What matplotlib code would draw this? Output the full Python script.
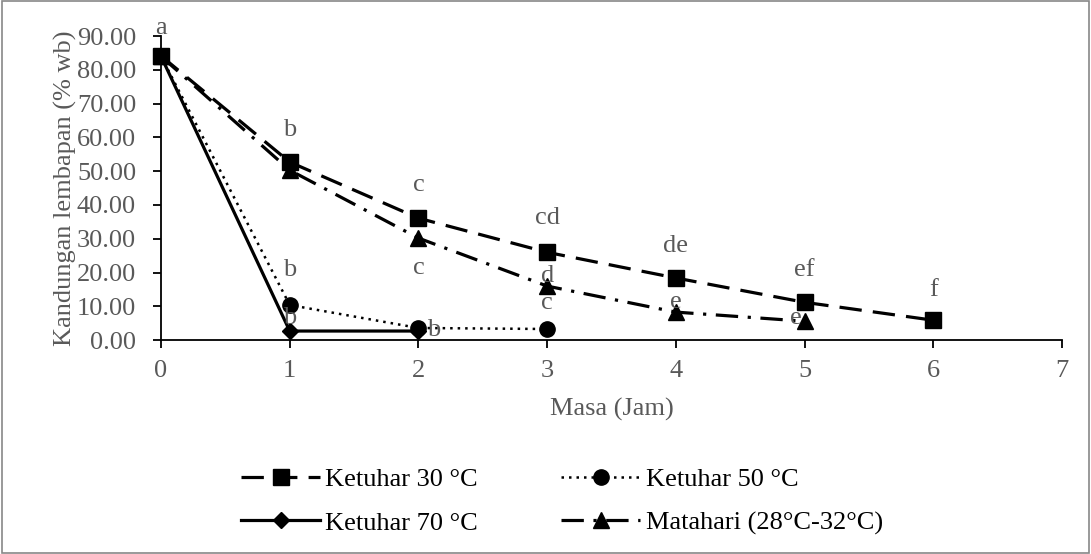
import numpy as np
import matplotlib.pyplot as plt
from matplotlib.patches import Rectangle

plt.rcParams['font.family'] = ['Liberation Serif', 'DejaVu Serif']

GRAY = '#595959'

# data
x_30 = [0, 1, 2, 3, 4, 5, 6]
y_30 = [84.1, 52.7, 36.1, 26.0, 18.4, 11.2, 5.9]
lab_30 = ['a', 'b', 'c', 'cd', 'de', 'ef', 'f']
laby_30 = [92.3, 62.2, 45.9, 36.1, 27.8, 20.7, 14.8]

x_50 = [0, 1, 2, 3]
y_50 = [84.0, 10.4, 3.6, 3.3]
lab_50 = ['b', 'c', 'c']
labx_50 = [1, 2, 3]
laby_50 = [20.7, 21.3, 11.0]

x_70 = [0, 1, 2]
y_70 = [84.0, 2.7, 2.7]
lab_70 = ['b', 'b']
labx_70 = [1, 2.12]
laby_70 = [6.5, 3.0]

x_sun = [0, 1, 2, 3, 4, 5]
y_sun = [84.0, 50.3, 30.2, 16.0, 8.3, 5.6]
lab_sun = ['d', 'e', 'e']
labx_sun = [3, 4, 4.93]
laby_sun = [19.0, 11.2, 6.5]

fig = plt.figure(figsize=(10.91, 5.54), dpi=100)
ax = fig.add_axes([0.1476, 0.386, 0.9734 - 0.1476, 0.935 - 0.386])

l30, = ax.plot(x_30, y_30, color='black', lw=2.3, marker='s', markersize=12,
               dashes=(7, 3.5), label='Ketuhar 30 °C', clip_on=False, zorder=3)
l50, = ax.plot(x_50, y_50, color='black', lw=1.8, marker='o', markersize=11,
               dashes=(1, 2), label='Ketuhar 50 °C', clip_on=False, zorder=3)
l70, = ax.plot(x_70, y_70, color='black', lw=2.3, marker='D', markersize=8,
               label='Ketuhar 70 °C', clip_on=False, zorder=3)
lsun, = ax.plot(x_sun, y_sun, color='black', lw=2.3, marker='^', markersize=12,
                dashes=(7, 3, 1, 3), label='Matahari (28°C-32°C)', clip_on=False, zorder=3)

fs = 19
for xv, yv, s in zip(x_30, laby_30, lab_30):
    ax.text(xv, yv, s, ha='center', va='center', fontsize=fs, color=GRAY, clip_on=False, zorder=4)
for xv, yv, s in zip(labx_50, laby_50, lab_50):
    ax.text(xv, yv, s, ha='center', va='center', fontsize=fs, color=GRAY, zorder=4)
for xv, yv, s in zip(labx_70, laby_70, lab_70):
    ax.text(xv, yv, s, ha='center', va='center', fontsize=fs, color=GRAY, zorder=4)
for xv, yv, s in zip(labx_sun, laby_sun, lab_sun):
    ax.text(xv, yv, s, ha='center', va='center', fontsize=fs, color=GRAY, zorder=4)

ax.set_xlim(0, 7)
ax.set_ylim(0, 90)
ax.set_xticks(range(0, 8))
ax.set_yticks(np.arange(0, 91, 10))
ax.set_yticklabels([f'{v:.2f}' for v in np.arange(0, 91, 10)])
ax.tick_params(axis='both', colors='black', labelcolor=GRAY, labelsize=fs,
               direction='out', length=6, width=1.3)
ax.tick_params(axis='x', pad=8)
ax.tick_params(axis='y', pad=12)
for side in ['top', 'right']:
    ax.spines[side].set_visible(False)
for side in ['left', 'bottom']:
    ax.spines[side].set_linewidth(1.3)

ax.set_xlabel('Masa (Jam)', fontsize=fs, color=GRAY, labelpad=12)
ax.set_ylabel('Kandungan lembapan (% wb)', fontsize=fs, color=GRAY, labelpad=0)

fig.legend(handles=[l30, l70, l50, lsun], loc='center', ncol=2, frameon=False,
           bbox_to_anchor=(0.515, 0.095), fontsize=fs, handlelength=3.0,
           columnspacing=3.15, labelspacing=0.75, handletextpad=0.2)

fig.add_artist(Rectangle((0.0015, 0.002), 0.997, 0.996, transform=fig.transFigure,
                         fill=False, edgecolor='#888888', lw=1.2))

fig.savefig('out.png', dpi=100)
